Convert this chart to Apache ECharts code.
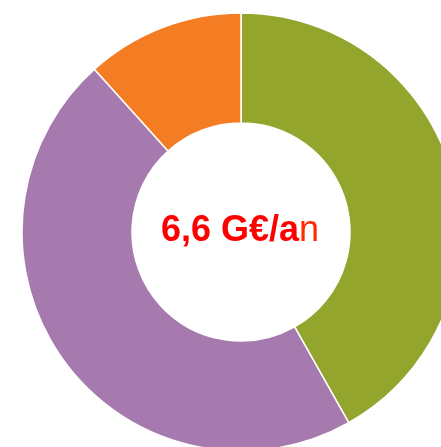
<!DOCTYPE html>
<html><head><meta charset="utf-8">
<script src="https://cdn.jsdelivr.net/npm/echarts@6/dist/echarts.min.js"></script>
<style>html,body{margin:0;padding:0;background:#fff}#c{width:441px;height:447px}</style>
</head><body><div id="c"></div>
<script>
const categories = ['A', 'B', 'C'];
const values = [2.76, 3.07, 0.77];
const colors = ['#93A52C', '#A67AAE', '#F47C22'];
const centerLabel = '6,6 G€/a';
const centerLabelTail = 'n';

const chart = echarts.init(document.getElementById('c'), null, {renderer: 'canvas'});
chart.setOption({
  animation: false,
  graphic: [{
    type: 'text',
    x: 240,
    y: 231,
    style: {
      text: '{b|' + centerLabel + '}{n|' + centerLabelTail + '}',
      align: 'center', verticalAlign: 'middle',
      rich: {
        b: {fontFamily: 'Liberation Sans, Arial, sans-serif', fontWeight: 'bold', fontSize: 36, fill: '#FF0000', color: '#FF0000'},
        n: {fontFamily: 'Liberation Sans, Arial, sans-serif', fontWeight: 'normal', fontSize: 36, fill: '#FF2A00', color: '#FF2A00'}
      }
    },
    z: 100
  }],
  series: [{
    type: 'pie',
    center: [241, 232],
    radius: [109, 219],
    startAngle: 90,
    clockwise: true,
    label: {show: false},
    labelLine: {show: false},
    emphasis: {disabled: true},
    itemStyle: {borderColor: '#fff', borderWidth: 1.5},
    data: categories.map((c, i) => ({name: c, value: values[i], itemStyle: {color: colors[i]}}))
  }]
});
</script>
</body></html>
